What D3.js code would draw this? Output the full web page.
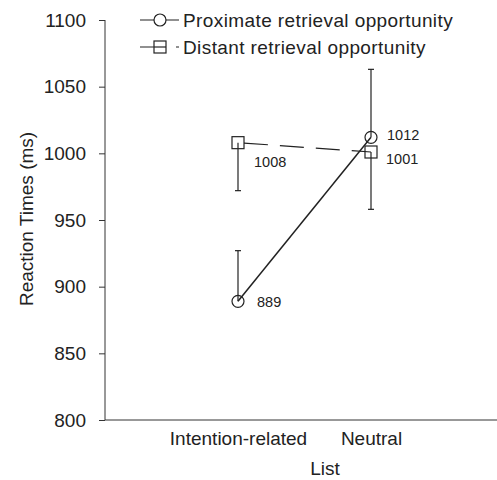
<!DOCTYPE html>
<html><head><meta charset="utf-8">
<script src="https://cdn.jsdelivr.net/npm/d3@7"></script>
<style>body{margin:0;background:#fff}svg{display:block}text{font-family:"Liberation Sans",Arial,sans-serif;fill:#222}</style>
</head><body><svg id="c" width="497" height="480"></svg>
<script>
const categories = ["Intention-related", "Neutral"];
const proximate = [889, 1012];
const distant = [1008, 1001];
const proximateErr = [927, 1063];   // upper error bar ends
const distantErr = [972, 958];      // lower error bar ends
const yTicks = [800, 850, 900, 950, 1000, 1050, 1100];
const seriesNames = ["Proximate retrieval opportunity", "Distant retrieval opportunity"];

const FS = 19;
const svg = d3.select("#c");
const x = d3.scalePoint().domain(categories).range([238, 371]);
const y = d3.scaleLinear().domain([800, 1100]).range([420, 20]);
const axisCol = "#333";

// y axis
const ya = svg.append("g").attr("transform", "translate(105,0)")
  .call(d3.axisLeft(y).tickValues(yTicks).tickFormat(d3.format("d")).tickSize(6).tickPadding(13));
ya.select(".domain").attr("stroke", axisCol).attr("d", `M0,${y(1100)}V${y(800)}`);
ya.selectAll(".tick line").attr("stroke", axisCol);
ya.selectAll(".tick text").attr("font-size", FS).attr("font-family", "Liberation Sans, Arial, sans-serif").attr("fill", "#222");

// x axis
const xa = svg.append("g").attr("transform", "translate(0,420)")
  .call(d3.axisBottom(x).tickSize(0).tickPadding(12));
xa.select(".domain").attr("stroke", axisCol).attr("d", "M105,0H497");
xa.selectAll(".tick text").attr("font-size", FS).attr("font-family", "Liberation Sans, Arial, sans-serif").attr("fill", "#222");

svg.append("text").attr("x", 325).attr("y", 475).attr("text-anchor", "middle").attr("font-size", FS).text("List");
svg.append("text").attr("transform", "translate(33,219) rotate(-90)").attr("text-anchor", "middle").attr("font-size", FS).text("Reaction Times (ms)");

// error bars
function errBar(xc, y0, y1) {
  svg.append("line").attr("x1", xc).attr("x2", xc).attr("y1", y(y0)).attr("y2", y(y1)).attr("stroke", "#222").attr("stroke-width", 1.2);
  svg.append("line").attr("x1", xc - 3).attr("x2", xc + 3).attr("y1", y(y1)).attr("y2", y(y1)).attr("stroke", "#222").attr("stroke-width", 1.2);
}
categories.forEach((c, i) => {
  errBar(x(c), proximate[i], proximateErr[i]);
  errBar(x(c), distant[i], distantErr[i]);
});

// lines
const line = d3.line().x((d, i) => x(categories[i])).y(d => y(d));
svg.append("path").attr("d", line(distant)).attr("fill", "none").attr("stroke", "#222").attr("stroke-width", 1.2).attr("stroke-dasharray", "24,12").attr("stroke-dashoffset", -6);
svg.append("path").attr("d", line(proximate)).attr("fill", "none").attr("stroke", "#222").attr("stroke-width", 1.5);

// markers
categories.forEach((c, i) => {
  svg.append("circle").attr("cx", x(c)).attr("cy", y(proximate[i])).attr("r", 6).attr("fill", "none").attr("stroke", "#222").attr("stroke-width", 1.2);
  svg.append("rect").attr("x", x(c) - 6).attr("y", y(distant[i]) - 6).attr("width", 12).attr("height", 12).attr("fill", "none").attr("stroke", "#222").attr("stroke-width", 1.2);
});

// value labels
const lab = (xx, yy, t) => svg.append("text").attr("x", xx).attr("y", yy).attr("font-size", 14.5).text(t);
lab(x(categories[0]) + 19, y(proximate[0]) + 6, proximate[0]);
lab(x(categories[0]) + 16, y(distant[0]) + 24, distant[0]);
lab(x(categories[1]) + 16, y(proximate[1]) + 3, proximate[1]);
lab(x(categories[1]) + 15, y(distant[1]) + 12, distant[1]);

// legend
svg.append("line").attr("x1", 140).attr("x2", 179).attr("y1", 20).attr("y2", 20).attr("stroke", "#222").attr("stroke-width", 1.2);
svg.append("circle").attr("cx", 160).attr("cy", 20).attr("r", 6).attr("fill", "#fff").attr("stroke", "#222").attr("stroke-width", 1.2);
svg.append("text").attr("x", 183).attr("y", 27).attr("font-size", FS).attr("letter-spacing", 0.4).text(seriesNames[0]);
svg.append("line").attr("x1", 140).attr("x2", 179).attr("y1", 47).attr("y2", 47).attr("stroke", "#222").attr("stroke-width", 1.2).attr("stroke-dasharray", "26,10,3,10");
svg.append("rect").attr("x", 154).attr("y", 41).attr("width", 12).attr("height", 12).attr("fill", "#fff").attr("stroke", "#222").attr("stroke-width", 1.2);
svg.append("line").attr("x1", 154).attr("x2", 166).attr("y1", 47).attr("y2", 47).attr("stroke", "#222").attr("stroke-width", 1.2);
svg.append("text").attr("x", 183).attr("y", 54).attr("font-size", FS).attr("letter-spacing", 0.4).text(seriesNames[1]);
</script></body></html>
